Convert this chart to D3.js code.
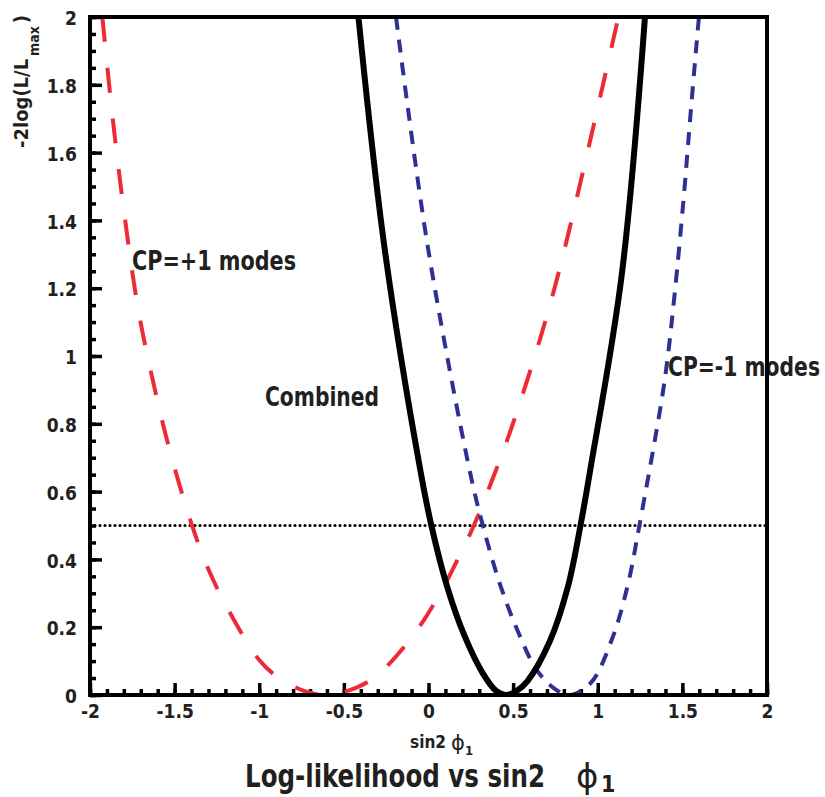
<!DOCTYPE html>
<html>
<head>
<meta charset="utf-8">
<script src="https://cdn.jsdelivr.net/npm/d3@7"></script>
<style>
  html, body { margin: 0; padding: 0; background: #fff; }
  svg { display: block; }
  .nar { font-family: "Liberation Sans Narrow", "DejaVu Sans Condensed", "Arial Narrow", sans-serif; font-weight: bold; fill: #231f20; }
</style>
</head>
<body>
<div id="chart"></div>
<script>
// ---------- data ----------
const combinedX = [-0.414, -0.26, -0.049, 0.017, 0.11, 0.215, 0.321, 0.40, 0.46, 0.52, 0.586, 0.718, 0.824, 0.898, 0.956, 1.141, 1.279];
const combinedY = [2.0, 1.32, 0.665, 0.5, 0.32, 0.172, 0.064, 0.012, 0.0, 0.012, 0.042, 0.16, 0.32, 0.5, 0.665, 1.236, 2.0];

const cpPlusX = [-1.927, -1.87, -1.80, -1.715, -1.612, -1.53, -1.397, -1.29, -1.16, -1.0, -0.895, -0.736, -0.63, -0.53, -0.445, -0.313, -0.1, 0.057, 0.19, 0.268, 0.4, 0.48, 0.572, 0.665, 0.784, 1.122];
const cpPlusY = [2.0, 1.72, 1.43, 1.137, 0.891, 0.724, 0.5, 0.359, 0.231, 0.103, 0.054, 0.012, 0.0, 0.006, 0.018, 0.054, 0.17, 0.29, 0.418, 0.5, 0.665, 0.773, 0.911, 1.06, 1.275, 2.0];

const cpMinusX = [-0.192, -0.0066, 0.242, 0.321, 0.427, 0.533, 0.639, 0.744, 0.83, 0.956, 1.088, 1.18, 1.246, 1.378, 1.413, 1.456, 1.506, 1.549, 1.594, 1.598];
const cpMinusY = [2.0, 1.33, 0.665, 0.5, 0.32, 0.182, 0.074, 0.019, 0.0, 0.034, 0.17, 0.33, 0.5, 0.871, 0.995, 1.191, 1.457, 1.718, 1.979, 2.0];

const refLevel = 0.5;
const xTicks = [-2, -1.5, -1, -0.5, 0, 0.5, 1, 1.5, 2];
const xTickLabels = ["-2", "-1.5", "-1", "-0.5", "0", "0.5", "1", "1.5", "2"];
const yTicks = [0, 0.2, 0.4, 0.6, 0.8, 1, 1.2, 1.4, 1.6, 1.8, 2];
const yTickLabels = ["0", "0.2", "0.4", "0.6", "0.8", "1", "1.2", "1.4", "1.6", "1.8", "2"];
const xMinor = d3.range(-20, 21).map(d => d / 10);
const yMinor = d3.range(0, 41).map(d => d / 20);

// ---------- layout ----------
const W = 825, H = 797;
const X0 = 90, X1 = 767, Y0 = 17, Y1 = 695;

const svg = d3.select("#chart").append("svg").attr("width", W).attr("height", H);

const x = d3.scaleLinear().domain([-2, 2]).range([X0, X1]);
const y = d3.scaleLinear().domain([0, 2]).range([Y1, Y0]);

svg.append("defs").append("clipPath").attr("id", "clip")
  .append("rect").attr("x", X0).attr("y", Y0).attr("width", X1 - X0).attr("height", Y1 - Y0);

// minor ticks
const gxMinor = svg.append("g").attr("transform", `translate(0,${Y1})`)
  .call(d3.axisBottom(x).tickValues(xMinor).tickSize(-6).tickFormat(""));
const gyMinor = svg.append("g").attr("transform", `translate(${X0},0)`)
  .call(d3.axisLeft(y).tickValues(yMinor).tickSize(-6).tickFormat(""));
[gxMinor, gyMinor].forEach(g => {
  g.select(".domain").remove();
  g.selectAll("line").attr("stroke", "#000").attr("stroke-width", 3.5);
});

// major ticks with labels
const gx = svg.append("g").attr("transform", `translate(0,${Y1})`)
  .call(d3.axisBottom(x).tickValues(xTicks).tickSize(-12).tickPadding(10)
    .tickFormat((d, i) => xTickLabels[i]));
const gy = svg.append("g").attr("transform", `translate(${X0},0)`)
  .call(d3.axisLeft(y).tickValues(yTicks).tickSize(-12).tickPadding(13)
    .tickFormat((d, i) => yTickLabels[i]));
[gx, gy].forEach(g => {
  g.select(".domain").remove();
  g.selectAll("line").attr("stroke", "#000").attr("stroke-width", 3.5);
  g.selectAll("text").attr("class", "nar").style("font-size", "19px").attr("fill", "#231f20");
});
gy.selectAll("text").attr("dy", "0.40em");

// curves
const line = d3.line().x(d => x(d[0])).y(d => y(d[1])).curve(d3.curveCatmullRom.alpha(0.5));
const plot = svg.append("g").attr("clip-path", "url(#clip)");

plot.append("line")
  .attr("x1", x(-2)).attr("x2", x(2)).attr("y1", y(refLevel)).attr("y2", y(refLevel))
  .attr("stroke", "#000").attr("stroke-width", 3.2).attr("stroke-linecap", "round")
  .attr("stroke-dasharray", "0 5");

plot.append("path").datum(d3.zip(cpPlusX, cpPlusY))
  .attr("d", line).attr("fill", "none")
  .attr("stroke", "#ed2a36").attr("stroke-width", 4).attr("stroke-dasharray", "25 26");

plot.append("path").datum(d3.zip(cpMinusX, cpMinusY))
  .attr("d", line).attr("fill", "none")
  .attr("stroke", "#2e3192").attr("stroke-width", 4).attr("stroke-dasharray", "13 10");

plot.append("path").datum(d3.zip(combinedX, combinedY))
  .attr("d", line).attr("fill", "none")
  .attr("stroke", "#000").attr("stroke-width", 6);

// curve labels
svg.append("text").attr("class", "nar").attr("x", 132).attr("y", 270)
  .style("font-size", "27px").attr("textLength", 164).attr("lengthAdjust", "spacingAndGlyphs")
  .text("CP=+1 modes");
svg.append("text").attr("class", "nar").attr("x", 265).attr("y", 406)
  .style("font-size", "27px").attr("textLength", 114).attr("lengthAdjust", "spacingAndGlyphs")
  .text("Combined");
svg.append("text").attr("class", "nar").attr("x", 668).attr("y", 376)
  .style("font-size", "27px").attr("textLength", 152).attr("lengthAdjust", "spacingAndGlyphs")
  .text("CP=-1 modes");

// frame on top
svg.append("rect").attr("x", X0).attr("y", Y0).attr("width", X1 - X0).attr("height", Y1 - Y0)
  .attr("fill", "none").attr("stroke", "#000").attr("stroke-width", 4);

// y axis title
const yt = svg.append("text").attr("class", "nar")
  .attr("transform", `translate(28,148) rotate(-90)`)
  .style("font-size", "20px");
yt.append("tspan").text("-2log(L/L");
yt.append("tspan").attr("dx", 3).attr("dy", 11).style("font-size", "14px").text("max");
yt.append("tspan").attr("dx", 3).attr("dy", -11).text(")");

// x axis title
svg.append("text").attr("class", "nar").attr("x", 410).attr("y", 748)
  .style("font-size", "18px").attr("textLength", 36).attr("lengthAdjust", "spacingAndGlyphs").text("sin2");
svg.append("text").attr("x", 451).attr("y", 750)
  .style("font-family", "'DejaVu Sans', sans-serif").style("font-size", "21px").attr("fill", "#231f20")
  .text("\u03D5");
svg.append("text").attr("class", "nar").attr("x", 465).attr("y", 755)
  .style("font-size", "13px").text("1");

// bottom title
svg.append("text").attr("class", "nar").attr("x", 245).attr("y", 787)
  .style("font-size", "32px").attr("textLength", 300).attr("lengthAdjust", "spacingAndGlyphs")
  .text("Log-likelihood vs sin2");
svg.append("text").attr("x", 576).attr("y", 788)
  .style("font-family", "'DejaVu Sans', sans-serif").style("font-size", "34px").attr("fill", "#231f20")
  .text("\u03D5");
svg.append("text").attr("class", "nar").attr("x", 601).attr("y", 792)
  .style("font-size", "23px").text("1");
</script>
</body>
</html>
